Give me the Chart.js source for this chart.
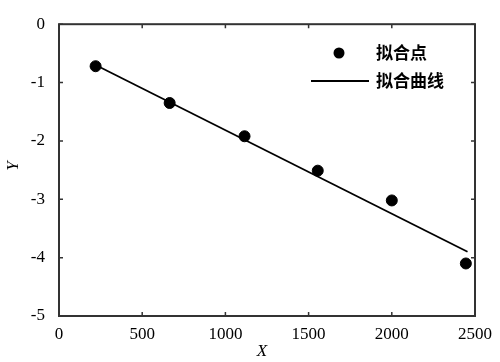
<!DOCTYPE html>
<html><head><meta charset="utf-8">
<script src="https://cdn.jsdelivr.net/npm/chart.js@4/dist/chart.umd.min.js"></script>
<style>html,body{margin:0;padding:0;background:#fff}#wrap{width:500px;height:362px}</style>
</head><body><div id="wrap"><canvas id="c" width="500" height="362"></canvas></div>
<script>
const pointX = [220, 665, 1115, 1555, 2000, 2445];
const pointY = [-0.72, -1.35, -1.92, -2.51, -3.02, -4.10];
const fitX = [220, 2455];
const fitY = [-0.70, -3.90];
const xTicks = [0, 500, 1000, 1500, 2000, 2500];
const yTicks = [0, -1, -2, -3, -4, -5];
const legendLabels = ['拟合点', '拟合曲线'];
const axisTitles = ['X', 'Y'];

const serif = '"Liberation Serif", "Times New Roman", serif';
const cjk = '"Noto Sans CJK SC", sans-serif';

const framePlugin = {
  id: 'frame',
  beforeDatasetsDraw(chart) {
    const {ctx, chartArea: a, scales} = chart;
    ctx.save();
    ctx.strokeStyle = '#333';
    ctx.lineWidth = 2;
    ctx.strokeRect(a.left, a.top, a.right - a.left, a.bottom - a.top);
    ctx.lineWidth = 1.5;
    const t = 4;
    ctx.beginPath();
    xTicks.forEach(v => {
      const x = scales.x.getPixelForValue(v);
      ctx.moveTo(x, a.bottom); ctx.lineTo(x, a.bottom - t);
      ctx.moveTo(x, a.top); ctx.lineTo(x, a.top + t);
    });
    yTicks.forEach(v => {
      const y = scales.y.getPixelForValue(v);
      ctx.moveTo(a.left, y); ctx.lineTo(a.left + t, y);
      ctx.moveTo(a.right, y); ctx.lineTo(a.right - t, y);
    });
    ctx.stroke();
    ctx.restore();
  },
  afterDraw(chart) {
    const {ctx} = chart;
    ctx.save();
    ctx.fillStyle = '#000';
    ctx.beginPath(); ctx.arc(339, 53, 5.5, 0, Math.PI * 2); ctx.fill();
    ctx.strokeStyle = '#000'; ctx.lineWidth = 1.8;
    ctx.beginPath(); ctx.moveTo(311, 81); ctx.lineTo(369, 81); ctx.stroke();
    ctx.font = 'bold 17px ' + cjk;
    ctx.textBaseline = 'middle'; ctx.textAlign = 'left';
    ctx.fillText(legendLabels[0], 376, 53);
    ctx.fillText(legendLabels[1], 376, 81);
    ctx.font = 'italic 17px ' + serif;
    ctx.textAlign = 'center';
    ctx.fillText(axisTitles[0], 262, 352);
    ctx.translate(14, 166); ctx.rotate(-Math.PI / 2);
    ctx.fillText(axisTitles[1], 0, 0);
    ctx.restore();
  }
};

new Chart(document.getElementById('c'), {
  type: 'scatter',
  data: {
    datasets: [
      {
        label: legendLabels[0],
        data: pointX.map((x, i) => ({x, y: pointY[i]})),
        backgroundColor: '#000', borderColor: '#000',
        pointRadius: 5.5, pointHoverRadius: 5.5, showLine: false
      },
      {
        label: legendLabels[1],
        data: fitX.map((x, i) => ({x, y: fitY[i]})),
        showLine: true, borderColor: '#000', borderWidth: 1.8,
        pointRadius: 0, fill: false
      }
    ]
  },
  options: {
    responsive: false, animation: false,
    layout: {padding: {left: 0, right: 22, top: 12, bottom: 0}},
    plugins: {legend: {display: false}, tooltip: {enabled: false}},
    scales: {
      x: {
        type: 'linear', min: 0, max: 2500,
        afterBuildTicks: s => { s.ticks = xTicks.map(v => ({value: v})); },
        grid: {display: false, drawTicks: false},
        border: {display: false},
        ticks: {color: '#000', padding: 8, font: {family: serif, size: 17}, maxRotation: 0,
                callback: v => String(v)},
        afterFit: s => { s.height = 46; }
      },
      y: {
        type: 'linear', min: -5, max: 0,
        afterBuildTicks: s => { s.ticks = yTicks.map(v => ({value: v})); },
        grid: {display: false, drawTicks: false},
        border: {display: false},
        ticks: {color: '#000', padding: 14, font: {family: serif, size: 17},
                callback: v => String(v)},
        afterFit: s => { s.width = 59; }
      }
    }
  },
  plugins: [framePlugin]
});
</script></body></html>
